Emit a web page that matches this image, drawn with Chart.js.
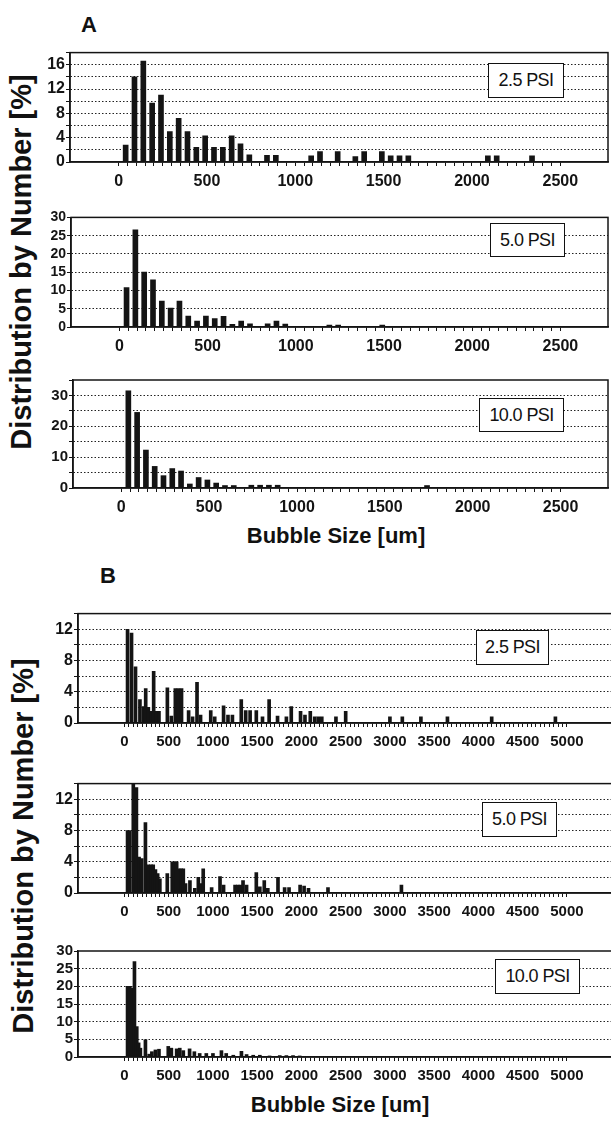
<!DOCTYPE html>
<html>
<head>
<meta charset="utf-8">
<script src="https://cdn.jsdelivr.net/npm/chart.js@4"></script>
<style>
  html, body { margin: 0; padding: 0; background: #fff; overflow: hidden; }
  body { width: 611px; height: 1123px; position: relative; font-family: "Liberation Sans", Arial, sans-serif; color: #111; }
  canvas { position: absolute; }
  .lbl { position: absolute; font-weight: bold; white-space: nowrap; transform: translate(-50%, -50%); }
  .ytitle { position: absolute; font-weight: bold; font-size: 29px; white-space: nowrap; transform: translate(-50%, -50%) rotate(-90deg); }
  .psi { position: absolute; box-sizing: border-box; border: 1.5px solid #111; background: #fff; font-size: 18px; letter-spacing: -0.6px; display: flex; align-items: center; justify-content: center; }
</style>
</head>
<body>
<div class="lbl" style="left:89px;top:25px;font-size:22px">A</div>
<div class="lbl" style="left:108px;top:576px;font-size:22px">B</div>
<div class="ytitle" style="left:21px;top:262px">Distribution by Number [%]</div>
<div class="ytitle" style="left:23px;top:846px">Distribution by Number [%]</div>
<div class="lbl" style="left:336px;top:536px;font-size:22px">Bubble Size [um]</div>
<div class="lbl" style="left:340px;top:1105px;font-size:22px">Bubble Size [um]</div>

<canvas id="a1"></canvas>
<canvas id="a2"></canvas>
<canvas id="a3"></canvas>
<canvas id="b1"></canvas>
<canvas id="b2"></canvas>
<canvas id="b3"></canvas>

<div class="psi" id="psiA1" style="left:488px;top:63px;width:76px;height:35px"></div>
<div class="psi" id="psiA2" style="left:490px;top:223px;width:75px;height:34px"></div>
<div class="psi" id="psiA3" style="left:479px;top:398px;width:85px;height:34px"></div>
<div class="psi" id="psiB1" style="left:476px;top:630px;width:73px;height:35px"></div>
<div class="psi" id="psiB2" style="left:482px;top:802px;width:75px;height:35px"></div>
<div class="psi" id="psiB3" style="left:495px;top:959px;width:85px;height:35px"></div>

<script>
// pressures
const psiLabels = ["2.5 PSI", "5.0 PSI", "10.0 PSI"];

// x tick labels
const xLabelsA = [0, 500, 1000, 1500, 2000, 2500];
const xLabelsB = [0, 500, 1000, 1500, 2000, 2500, 3000, 3500, 4000, 4500, 5000];

// ---- set A : bubble size (um) vs % by number
const sizeA1 = [40, 90, 140, 190, 240, 290, 340, 390, 440, 490, 540, 590, 640, 690, 740, 840, 890,
  1090, 1140, 1240, 1340, 1390, 1490, 1540, 1590, 1640, 2090, 2140, 2340];
const pctA1 = [2.8, 14, 16.6, 9.7, 11, 5, 7.2, 5, 2.4, 4.3, 2.4, 2.4, 4.3, 3, 1.2, 1.1, 1.1,
  1.0, 1.7, 1.7, 0.9, 1.7, 1.7, 1.0, 1.0, 1.0, 1.0, 1.0, 1.0];

const sizeA2 = [40, 90, 140, 190, 240, 290, 340, 390, 440, 490, 540, 590, 640, 690, 740, 840, 890, 940,
  1190, 1240, 1490];
const pctA2 = [10.8, 26.6, 15, 12.9, 7.1, 5.2, 7.1, 3.0, 1.6, 3.0, 2.3, 2.9, 0.7, 1.6, 0.9, 0.9, 1.6, 0.8,
  0.5, 0.5, 0.5];

const sizeA3 = [40, 90, 140, 190, 240, 290, 340, 390, 440, 490, 540, 590, 640, 740, 790, 840, 890, 1740];
const pctA3 = [31.5, 24.5, 12.3, 7.0, 4.0, 6.3, 5.5, 1.3, 3.4, 2.6, 1.6, 0.8, 0.8, 0.9, 0.9, 0.9, 0.9, 0.8];

// ---- set B
const sizeB1 = [35, 80, 125, 175, 215, 240, 270, 300, 330, 360, 390, 485, 530, 575, 610, 645, 725, 770,
  820, 860, 975, 1020, 1120, 1170, 1220, 1320, 1370, 1420, 1490, 1560, 1635, 1730, 1830, 1885,
  1990, 2040, 2100, 2150, 2190, 2230, 2390, 2500, 3000, 3140, 3350, 3650, 4150, 4870];
const pctB1 = [12, 11.5, 7.2, 3.0, 2.1, 4.4, 2.0, 1.5, 6.6, 1.5, 1.5, 4.5, 0.9, 4.4, 4.4, 4.4, 1.6, 0.8,
  5.2, 1.0, 1.6, 0.8, 2.2, 1.0, 1.0, 3.0, 1.6, 1.6, 1.6, 0.8, 3.0, 0.9, 0.8, 2.1,
  1.5, 1.0, 1.5, 0.8, 0.8, 0.8, 0.8, 1.5, 0.8, 0.8, 0.8, 0.8, 0.8, 0.8];

const sizeB2 = [35, 60, 100, 135, 165, 195, 237, 270, 300, 325, 350, 375, 400, 484, 540, 565, 590, 615,
  640, 665, 690, 740, 795, 835, 860, 890, 985, 1080, 1120, 1250, 1280, 1310, 1340, 1380, 1490,
  1530, 1580, 1620, 1735, 1810, 1860, 1985, 2030, 2080, 2300, 3130];
const pctB2 = [8.0, 8.0, 13.9, 13.5, 4.6, 4.4, 9.0, 3.6, 3.6, 3.6, 3.0, 2.5, 1.8, 2.5, 4.0, 4.0, 4.0, 3.1,
  3.1, 3.1, 1.2, 1.6, 0.6, 2.0, 1.2, 3.1, 0.7, 2.1, 1.0, 1.0, 1.0, 1.0, 1.6, 1.0, 2.6,
  0.8, 1.6, 0.6, 2.0, 0.7, 0.7, 1.0, 0.9, 0.6, 0.7, 1.0];

const sizeB3 = [35, 60, 85, 113, 139, 160, 180, 237, 280, 310, 350, 390, 495, 530, 590, 625, 665, 736,
  790, 850, 925, 1000, 1096, 1150, 1230, 1322, 1380, 1455, 1530, 1640, 1755, 1830, 1905, 1980];
const pctB3 = [20, 20, 19.5, 27, 8.6, 4.0, 2.5, 4.9, 0.8, 1.5, 2.0, 2.2, 3.0, 2.5, 2.3, 2.5, 1.8, 2.3,
  1.5, 1.0, 1.0, 1.0, 1.8, 1.0, 0.5, 1.6, 0.7, 0.5, 0.5, 0.3, 0.4, 0.4, 0.4, 0.3];

const INK = '#141414';
const FONT = '"Liberation Sans", Arial, sans-serif';

// outline around the plot area
const frame = {
  id: 'frame',
  afterDraw(chart) {
    const { ctx, chartArea: a } = chart;
    ctx.save();
    ctx.strokeStyle = INK;
    ctx.lineWidth = 1.5;
    ctx.strokeRect(a.left, a.top, a.right - a.left, a.bottom - a.top);
    ctx.restore();
  }
};

function marks(from, to, step) {
  const out = [];
  for (let v = from; v <= to; v += step) out.push(v);
  return out;
}

function panel(id, box, sizes, pct, y, x) {
  const axisW = 44, axisH = 32, padT = 4, padR = 2;
  const cv = document.getElementById(id);
  cv.width = box.r - box.l + axisW + padR;
  cv.height = box.b - box.t + padT + axisH;
  cv.style.left = (box.l - axisW) + 'px';
  cv.style.top = (box.t - padT) + 'px';

  new Chart(cv, {
    type: 'bar',
    data: {
      datasets: [{
        data: sizes.map((s, i) => ({ x: s, y: pct[i] })),
        backgroundColor: INK,
        borderWidth: 0,
        barThickness: x.bar,
        grouped: false
      }]
    },
    plugins: [frame],
    options: {
      responsive: false,
      animation: false,
      events: [],
      layout: { padding: { top: padT, right: padR, left: 0, bottom: 0 } },
      plugins: { legend: { display: false }, tooltip: { enabled: false } },
      scales: {
        x: {
          type: 'linear',
          min: x.min,
          max: x.max,
          offset: false,
          afterBuildTicks: s => { s.ticks = x.marks.map(v => ({ value: v })); },
          afterFit: s => { s.height = axisH; },
          grid: { drawOnChartArea: false, drawTicks: true, tickLength: 4, color: INK, offset: false },
          border: { display: true, color: INK, width: 1.5 },
          ticks: {
            autoSkip: false, maxRotation: 0, minRotation: 0, padding: 6, color: INK,
            font: { family: FONT, weight: 'bold', size: x.font },
            callback: v => x.labels.includes(v) ? String(v) : ''
          }
        },
        y: {
          min: 0,
          max: y.max,
          afterFit: s => { s.width = axisW; },
          grid: {
            color: c => (c.tick && c.tick.value > 0 && c.tick.value < y.max) ? '#222' : 'rgba(0,0,0,0)',
            tickColor: INK, tickLength: 4, lineWidth: 1
          },
          border: { display: true, color: INK, width: 1.5, dash: [1.5, 2] },
          ticks: {
            stepSize: y.step, autoSkip: false, padding: 1, color: INK,
            font: { family: FONT, weight: 'bold', size: y.font },
            callback: v => y.labels.includes(v) ? String(v) : ''
          }
        }
      }
    }
  });
}

const xA = { min: -275, max: 2770, marks: marks(0, 2500, 50), labels: xLabelsA, font: 16, bar: 5 };
const xB = { min: -525, max: 5600, marks: marks(0, 5000, 50), labels: xLabelsB, font: 15, bar: 3 };

panel('a1', { l: 70, t: 46, r: 608, b: 162 }, sizeA1, pctA1,
  { max: 18, step: 2, labels: [0, 4, 8, 12, 16], font: 16 }, xA);
panel('a2', { l: 71, t: 212, r: 608, b: 327 }, sizeA2, pctA2,
  { max: 30, step: 5, labels: [0, 5, 10, 15, 20, 25, 30], font: 14 }, xA);
panel('a3', { l: 73, t: 374, r: 608, b: 488 }, sizeA3, pctA3,
  { max: 35, step: 5, labels: [0, 10, 20, 30], font: 15 }, xA);
panel('b1', { l: 78, t: 607, r: 620, b: 723 }, sizeB1, pctB1,
  { max: 14, step: 2, labels: [0, 4, 8, 12], font: 16 }, xB);
panel('b2', { l: 78, t: 777, r: 620, b: 893 }, sizeB2, pctB2,
  { max: 14, step: 2, labels: [0, 4, 8, 12], font: 16 }, xB);
panel('b3', { l: 78, t: 945, r: 620, b: 1057 }, sizeB3, pctB3,
  { max: 30, step: 5, labels: [0, 5, 10, 15, 20, 25, 30], font: 15 }, xB);

['psiA1', 'psiA2', 'psiA3'].forEach((id, i) => { document.getElementById(id).textContent = psiLabels[i]; });
['psiB1', 'psiB2', 'psiB3'].forEach((id, i) => { document.getElementById(id).textContent = psiLabels[i]; });
</script>
</body>
</html>
